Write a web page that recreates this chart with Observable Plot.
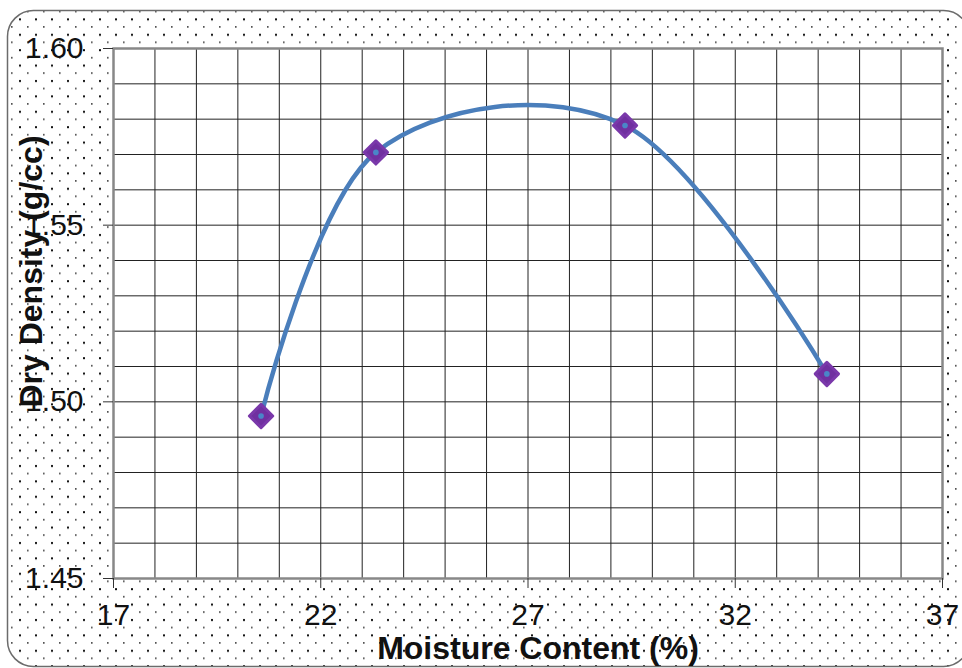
<!DOCTYPE html>
<html>
<head>
<meta charset="utf-8">
<script src="https://cdn.jsdelivr.net/npm/d3@7"></script>
<script src="https://cdn.jsdelivr.net/npm/@observablehq/plot@0.6"></script>
<style>
  html, body { margin: 0; padding: 0; background: #fff; }
  #chart { width: 962px; height: 668px; overflow: hidden; }
</style>
</head>
<body>
<div id="chart"></div>
<script>
// Data
const moisture = [20.56, 23.33, 29.34, 34.21];
const dryDensity = [1.496, 1.5706, 1.5782, 1.5079];
const xTicks = [17, 22, 27, 32, 37];
const yTicks = [1.45, 1.50, 1.55, 1.60];
const xGrid = d3.range(17, 38, 1);
const yGrid = d3.range(0, 16).map(i => +(1.45 + i * 0.01).toFixed(2));
const xTitle = "Moisture Content (%)";
const yTitle = "Dry Density (g/cc)";

const data = moisture.map((m, i) => ({m, d: dryDensity[i]}));

const FONT = "Liberation Sans, Arial, sans-serif";

// Background: rounded, dotted chart area
function background(index, scales, values, dims) {
  const ns = "http://www.w3.org/2000/svg";
  const g = document.createElementNS(ns, "g");
  const defs = document.createElementNS(ns, "defs");
  const pat = document.createElementNS(ns, "pattern");
  pat.setAttribute("id", "dots");
  pat.setAttribute("patternUnits", "userSpaceOnUse");
  pat.setAttribute("width", 16);
  pat.setAttribute("height", 15.4);
  pat.setAttribute("x", 1);
  pat.setAttribute("y", 1);
  const d1 = document.createElementNS(ns, "rect");
  d1.setAttribute("x", 2); d1.setAttribute("y", 2);
  d1.setAttribute("width", 2); d1.setAttribute("height", 2);
  d1.setAttribute("fill", "#111");
  const d2 = document.createElementNS(ns, "rect");
  d2.setAttribute("x", 10); d2.setAttribute("y", 9.7);
  d2.setAttribute("width", 1.6); d2.setAttribute("height", 1.6);
  d2.setAttribute("fill", "#444");
  pat.appendChild(d1); pat.appendChild(d2);
  defs.appendChild(pat);
  g.appendChild(defs);
  const r = document.createElementNS(ns, "rect");
  r.setAttribute("x", 7.5); r.setAttribute("y", 10.5);
  r.setAttribute("width", 962); r.setAttribute("height", 656);
  r.setAttribute("rx", 26); r.setAttribute("ry", 26);
  r.setAttribute("fill", "url(#dots)");
  r.setAttribute("stroke", "#6b6b6b");
  r.setAttribute("stroke-width", 1.5);
  g.appendChild(r);
  return g;
}

const chart = Plot.plot({
  width: 962,
  height: 668,
  marginLeft: 113,
  marginRight: 20,
  marginTop: 48,
  marginBottom: 90,
  style: {fontFamily: FONT, background: "white", overflow: "visible"},
  x: {domain: [17, 37]},
  y: {domain: [1.45, 1.60]},
  marks: [
    background,
    Plot.frame({fill: "white", stroke: null}),
    Plot.gridX(xGrid, {stroke: "#222", strokeOpacity: 1, strokeWidth: 1}),
    Plot.gridY(yGrid, {stroke: "#222", strokeOpacity: 1, strokeWidth: 1}),
    Plot.frame({stroke: "#888", strokeWidth: 2.5}),
    Plot.axisX(xTicks, {
      tickSize: 10, tickPadding: 15, fontSize: 30, label: null,
      stroke: "#333", fill: "#111", tickFormat: d => String(d)
    }),
    Plot.axisY(yTicks, {
      tickSize: 10, tickPadding: 20, fontSize: 30, label: null,
      stroke: "#333", fill: "#111", tickFormat: d => d.toFixed(2)
    }),
    Plot.line(data, {
      x: "m", y: "d", curve: "cardinal",
      stroke: "#4a7ebb", strokeWidth: 4.5, strokeLinecap: "round"
    }),
    Plot.dot(data, {
      x: "m", y: "d", symbol: "diamond2", r: 10.5,
      fill: "#7030a0", stroke: "#7a38aa", strokeWidth: 3, strokeLinejoin: "round"
    }),
    Plot.dot(data, {x: "m", y: "d", r: 2.8, fill: "#4a86c8", stroke: null}),
    Plot.text([xTitle], {
      frameAnchor: "bottom", dx: 10, dy: 80, text: d => d, textAnchor: "middle",
      fontSize: 32, fontWeight: "bold", fill: "#111", fontFamily: FONT
    }),
    Plot.text([yTitle], {
      frameAnchor: "left", dx: -82, dy: -42, rotate: -90, text: d => d, textAnchor: "middle",
      fontSize: 32, fontWeight: "bold", fill: "#111", fontFamily: FONT
    })
  ]
});

document.getElementById("chart").appendChild(chart);
</script>
</body>
</html>
